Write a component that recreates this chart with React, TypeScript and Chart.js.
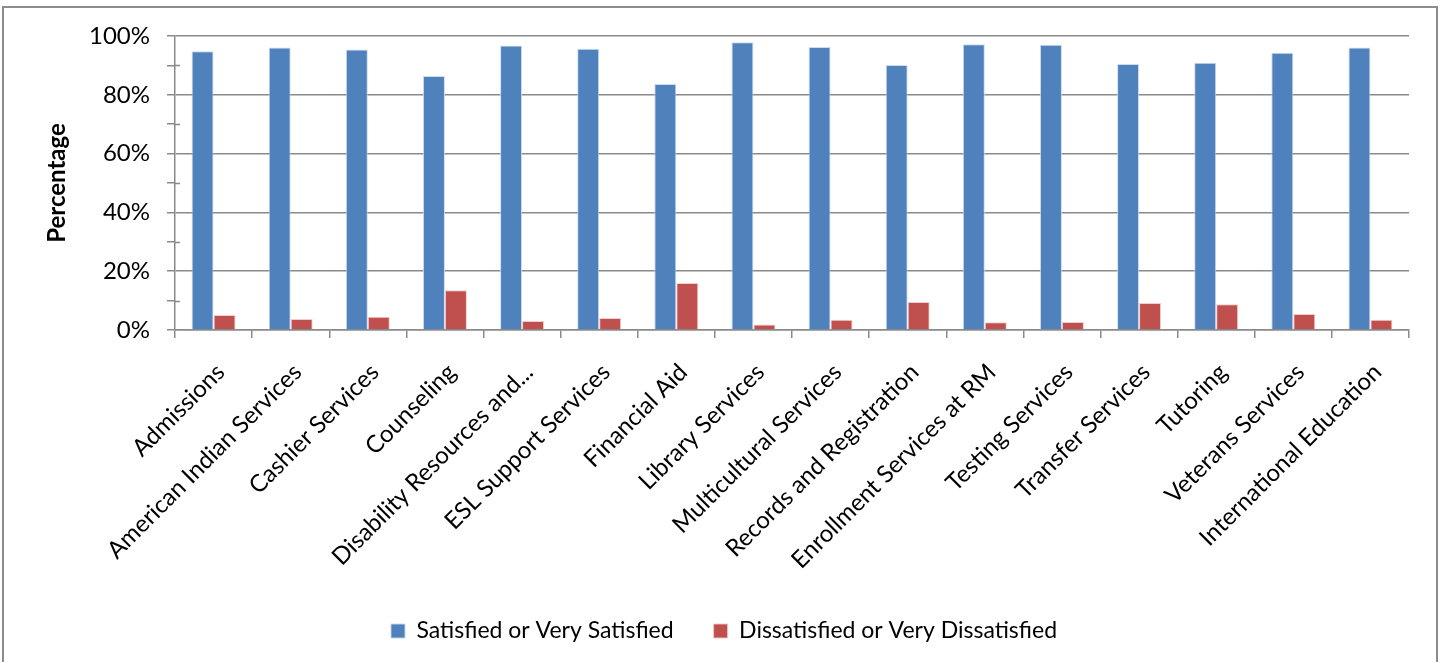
import React, { useEffect, useRef } from "react";
import { Chart, registerables } from "chart.js";

Chart.register(...registerables);

const categories = [
  "Admissions",
  "American Indian Services",
  "Cashier Services",
  "Counseling",
  "Disability Resources and...",
  "ESL Support Services",
  "Financial Aid",
  "Library Services",
  "Multicultural Services",
  "Records and Registration",
  "Enrollment Services at RM",
  "Testing Services",
  "Transfer Services",
  "Tutoring",
  "Veterans Services",
  "International Education",
];

const satisfied = [94.8, 96.1, 95.4, 86.4, 96.8, 95.7, 83.7, 97.9, 96.3, 90.1, 97.2, 97.0, 90.5, 90.9, 94.3, 96.1];
const dissatisfied = [5.1, 3.7, 4.5, 13.5, 3.1, 4.1, 16.0, 1.9, 3.5, 9.5, 2.6, 2.7, 9.2, 8.8, 5.4, 3.5];

const seriesNames = ["Satisfied or Very Satisfied", "Dissatisfied or Very Dissatisfied"];
const yAxisTitle = "Percentage";
const minorTickValues = [10, 30, 50, 70, 90];

const FONT = "Lato";
const GRID = "#8a8a8a";

const framePlugin = {
  id: "frame",
  beforeDraw(chart: any) {
    const ctx = chart.ctx;
    ctx.save();
    ctx.fillStyle = "#ffffff";
    ctx.fillRect(0, 0, chart.width, chart.height);
    ctx.strokeStyle = "#8c8c8c";
    ctx.lineWidth = 2;
    ctx.strokeRect(3, 7, 1434, 720);
    ctx.restore();
  },
  afterDraw(chart: any) {
    // minor tick marks crossing the value axis
    const ctx = chart.ctx;
    const y = chart.scales.y;
    ctx.save();
    ctx.strokeStyle = GRID;
    ctx.lineWidth = 1.5;
    for (const v of minorTickValues) {
      const py = Math.round(y.getPixelForValue(v)) + 0.5;
      ctx.beginPath();
      ctx.moveTo(y.right, py);
      ctx.lineTo(y.right + 5, py);
      ctx.stroke();
    }
    ctx.restore();
  },
};

export default function App() {
  const ref = useRef<HTMLCanvasElement | null>(null);

  useEffect(() => {
    document.body.style.margin = "0";
    const canvas = ref.current;
    if (!canvas) return;
    const chart = new Chart(canvas, {
      type: "bar",
      data: {
        labels: categories,
        datasets: [
          {
            label: seriesNames[0],
            data: satisfied,
            backgroundColor: "#4F81BD",
            borderColor: "rgba(200,215,235,0.9)",
            borderWidth: 1,
            categoryPercentage: 0.57,
            barPercentage: 1.0,
          },
          {
            label: seriesNames[1],
            data: dissatisfied,
            backgroundColor: "#C0504D",
            borderColor: "rgba(240,200,200,0.9)",
            borderWidth: 1,
            categoryPercentage: 0.57,
            barPercentage: 1.0,
          },
        ],
      },
      options: {
        responsive: false,
        animation: false,
        devicePixelRatio: 1,
        layout: { padding: { left: 39, right: 34, top: 36, bottom: 9.5 } },
        plugins: {
          legend: {
            position: "bottom",
            labels: {
              font: { family: FONT, size: 23 },
              color: "#000",
              boxWidth: 14,
              boxHeight: 14,
              padding: 40,
            },
          },
          tooltip: { enabled: false },
          title: { display: false },
        },
        scales: {
          x: {
            offset: true,
            grid: {
              display: true,
              drawOnChartArea: false,
              drawTicks: true,
              tickLength: 8,
              color: GRID,
              lineWidth: 1.5,
              offset: true,
            },
            border: { color: GRID, width: 1.5 },
            ticks: {
              autoSkip: false,
              maxRotation: 45,
              minRotation: 45,
              font: { family: FONT, size: 24 },
              color: "#000",
              padding: 20,
              labelOffset: 7,
            },
            afterFit: (s: any) => {
              s.height = 249.5;
            },
          },
          y: {
            min: 0,
            max: 100,
            ticks: {
              stepSize: 10,
              autoSkip: false,
              font: { family: FONT, size: 24 },
              color: "#000",
              padding: 17,
              callback: (v: any) => (Number(v) % 20 === 0 ? v + "%" : ""),
            },
            grid: {
              color: (c: any) => (c.tick && c.tick.value % 20 === 0 ? GRID : "rgba(0,0,0,0)"),
              tickColor: GRID,
              tickLength: 8,
              lineWidth: 1.5,
            },
            border: { color: GRID, width: 1.5 },
            title: {
              display: true,
              text: yAxisTitle,
              font: { family: FONT, size: 24, weight: "bold" },
              color: "#000",
              padding: { top: 4, bottom: 4 },
            },
            afterFit: (s: any) => {
              s.width = 136;
            },
          },
        },
      },
      plugins: [framePlugin],
    });
    return () => chart.destroy();
  }, []);

  return (
    <div style={{ width: 1443, height: 662, position: "relative", overflow: "hidden" }}>
      <canvas ref={ref} width={1443} height={662} style={{ width: 1443, height: 662, display: "block" }} />
    </div>
  );
}
